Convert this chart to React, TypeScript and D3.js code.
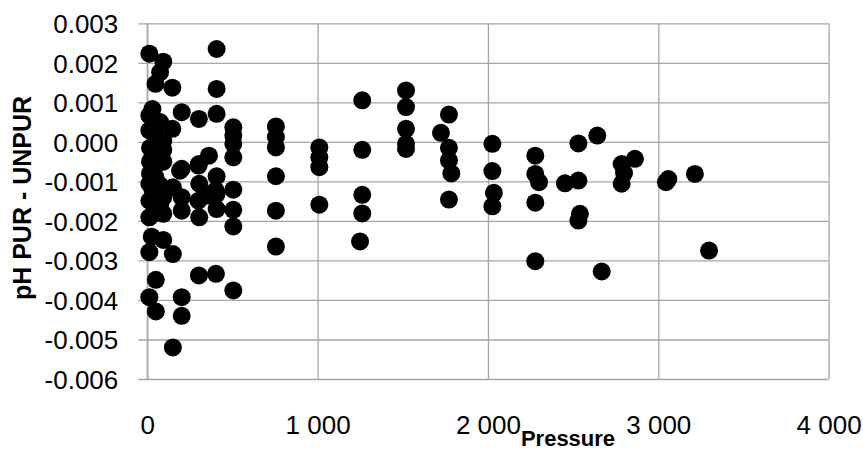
import { useRef, useEffect } from "react";
import { select, scaleLinear, axisLeft, axisBottom, range } from "d3";

// Pressure readings (x) and pH difference PUR - UNPUR (y)
const pressure = [
  12, 12, 12, 12, 12, 12, 26, 12, 12, 16, 16, 16,
  30, 30, 30,
  48, 48, 48, 48, 48, 48, 48, 50, 50,
  75, 75, 75, 75, 75,
  94, 94, 94, 94, 94, 94, 94, 94,
  147, 147, 150, 150, 150,
  202, 202, 192, 202, 202, 202, 202,
  303, 303, 300, 305, 300, 305, 303,
  362, 358,
  407, 407, 407, 407, 401, 407, 407, 403,
  505, 505, 505, 505, 505, 505, 505, 505,
  755, 755, 755, 755, 755, 755,
  1010, 1010, 1010, 1010,
  1262, 1262, 1262, 1262, 1249,
  1519, 1519, 1519, 1519, 1519,
  1724,
  1771, 1771, 1771, 1785, 1771,
  2026, 2026, 2035, 2026,
  2278, 2278, 2300, 2278, 2278,
  2452,
  2531, 2531, 2540, 2531,
  2642, 2668,
  2785, 2785, 2799, 2863,
  3045, 3059, 3215, 3298,
];

const phDiff = [
  0.00223, 0.00067, 0.00029, -0.00106, -0.00149, -0.00191, -0.0024, -0.00279, -0.00393, -0.00015, -0.0005, -0.0008,
  0.00083, -0.0004, -0.0012,
  0.00147, 0.0002, -0.0001, -0.0006, -0.0009, -0.0013, -0.0018, -0.00349, -0.00429,
  0.00176, 0.0005, -0.0003, -0.0011, -0.0016,
  0.00203, 0.00003, -0.0002, -0.0005, -0.0012, -0.0014, -0.00182, -0.00248,
  0.00137, 0.00033, -0.00115, -0.00284, -0.0052,
  0.00075, -0.00068, -0.00073, -0.0014, -0.00174, -0.00393, -0.0044,
  0.00058, -0.00056, -0.0006, -0.00106, -0.00149, -0.00191, -0.00338,
  -0.00035, -0.00136,
  0.00235, 0.00134, 0.00071, -0.00087, -0.00123, -0.00132, -0.0017, -0.00334,
  0.00037, 0.00016, -0.00005, -0.00039, -0.00121, -0.00172, -0.00214, -0.00376,
  0.00039, 0.00012, -0.00014, -0.00087, -0.00174, -0.00265,
  -0.00014, -0.00039, -0.00064, -0.00159,
  0.00105, -0.0002, -0.00134, -0.00181, -0.00252,
  0.0013, 0.00088, 0.00033, -0.00005, -0.00018,
  0.00023,
  0.00069, -0.00015, -0.00047, -0.0008, -0.00146,
  -0.00005, -0.00074, -0.00129, -0.00163,
  -0.00035, -0.00081, -0.00102, -0.00154, -0.00302,
  -0.00105,
  -0.00004, -0.00098, -0.00182, -0.00199,
  0.00016, -0.00328,
  -0.00056, -0.00106, -0.00079, -0.00043,
  -0.00102, -0.00094, -0.00081, -0.00275,
];

const xTicks = [0, 1000, 2000, 3000, 4000];
const yTicks = [0.003, 0.002, 0.001, 0, -0.001, -0.002, -0.003, -0.004, -0.005, -0.006];

const width = 863;
const height = 452;
const margin = { top: 23.3, right: 34.4, bottom: 73, left: 147.3 };
const font = "'Liberation Sans', Arial, sans-serif";
const gridColor = "#a6a6a6";

const App = () => {
  const svgRef = useRef<SVGSVGElement>(null);

  useEffect(() => {
    const svg = select(svgRef.current);
    const innerW = width - margin.left - margin.right;
    const innerH = height - margin.top - margin.bottom;

    const xScale = scaleLinear().domain([0, 4000]).range([0, innerW]);
    const yScale = scaleLinear().domain([-0.006, 0.003]).range([innerH, 0]);

    const g = svg.select<SVGGElement>(".plot")
      .attr("transform", `translate(${margin.left},${margin.top})`);

    // Horizontal gridlines with the small outward tick on the left
    const yAxis = axisLeft(yScale)
      .tickValues(yTicks)
      .tickSize(-innerW)
      .tickFormat(d => (d as number).toFixed(3))
      .tickPadding(0);
    const ya = g.select<SVGGElement>(".y-axis").call(yAxis);
    ya.select(".domain").remove();
    ya.selectAll(".tick line")
      .attr("x1", -9)
      .attr("x2", innerW)
      .attr("stroke", gridColor)
      .attr("stroke-width", 1.3);
    ya.selectAll(".tick text")
      .attr("x", -29)
      .attr("dy", "0.36em")
      .attr("fill", "#000")
      .style("font-family", font)
      .style("font-size", "26px");

    // Vertical gridlines
    const xAxis = axisBottom(xScale)
      .tickValues(xTicks)
      .tickSize(-innerH)
      .tickFormat(d => String(d).replace(/\B(?=(\d{3})+(?!\d))/g, " "))
      .tickPadding(0);
    const xa = g.select<SVGGElement>(".x-axis")
      .attr("transform", `translate(0,${innerH})`)
      .call(xAxis);
    xa.select(".domain").remove();
    xa.selectAll(".tick line")
      .attr("stroke", gridColor)
      .attr("stroke-width", 1.3);
    xa.selectAll(".tick text")
      .attr("y", 46)
      .attr("dy", "0.36em")
      .attr("fill", "#000")
      .style("font-family", font)
      .style("font-size", "26px");

    // Left axis line
    g.select(".y-line")
      .attr("x1", 0).attr("x2", 0)
      .attr("y1", 0).attr("y2", innerH)
      .attr("stroke", gridColor)
      .attr("stroke-width", 1.3);

    // Points
    g.select(".points")
      .selectAll("circle")
      .data(range(pressure.length))
      .join("circle")
      .attr("cx", i => xScale(pressure[i]))
      .attr("cy", i => yScale(phDiff[i]))
      .attr("r", 9)
      .attr("fill", "#000");

    // Axis titles
    svg.select(".x-label")
      .attr("x", 568)
      .attr("y", 446)
      .attr("text-anchor", "middle")
      .style("font-family", font)
      .style("font-size", "22px")
      .style("font-weight", "bold")
      .text("Pressure");

    svg.select(".y-label")
      .attr("text-anchor", "middle")
      .attr("transform", `translate(31,198) rotate(-90)`)
      .style("font-family", font)
      .style("font-size", "25px")
      .style("font-weight", "bold")
      .text("pH PUR - UNPUR");
  }, []);

  return (
    <svg
      ref={svgRef}
      width={width}
      height={height}
      style={{ position: "absolute", left: 0, top: 0, background: "#fff" }}
    >
      <g className="plot">
        <g className="y-axis"></g>
        <g className="x-axis"></g>
        <line className="y-line"></line>
        <g className="points"></g>
      </g>
      <text className="x-label"></text>
      <text className="y-label"></text>
    </svg>
  );
};

export default App;
